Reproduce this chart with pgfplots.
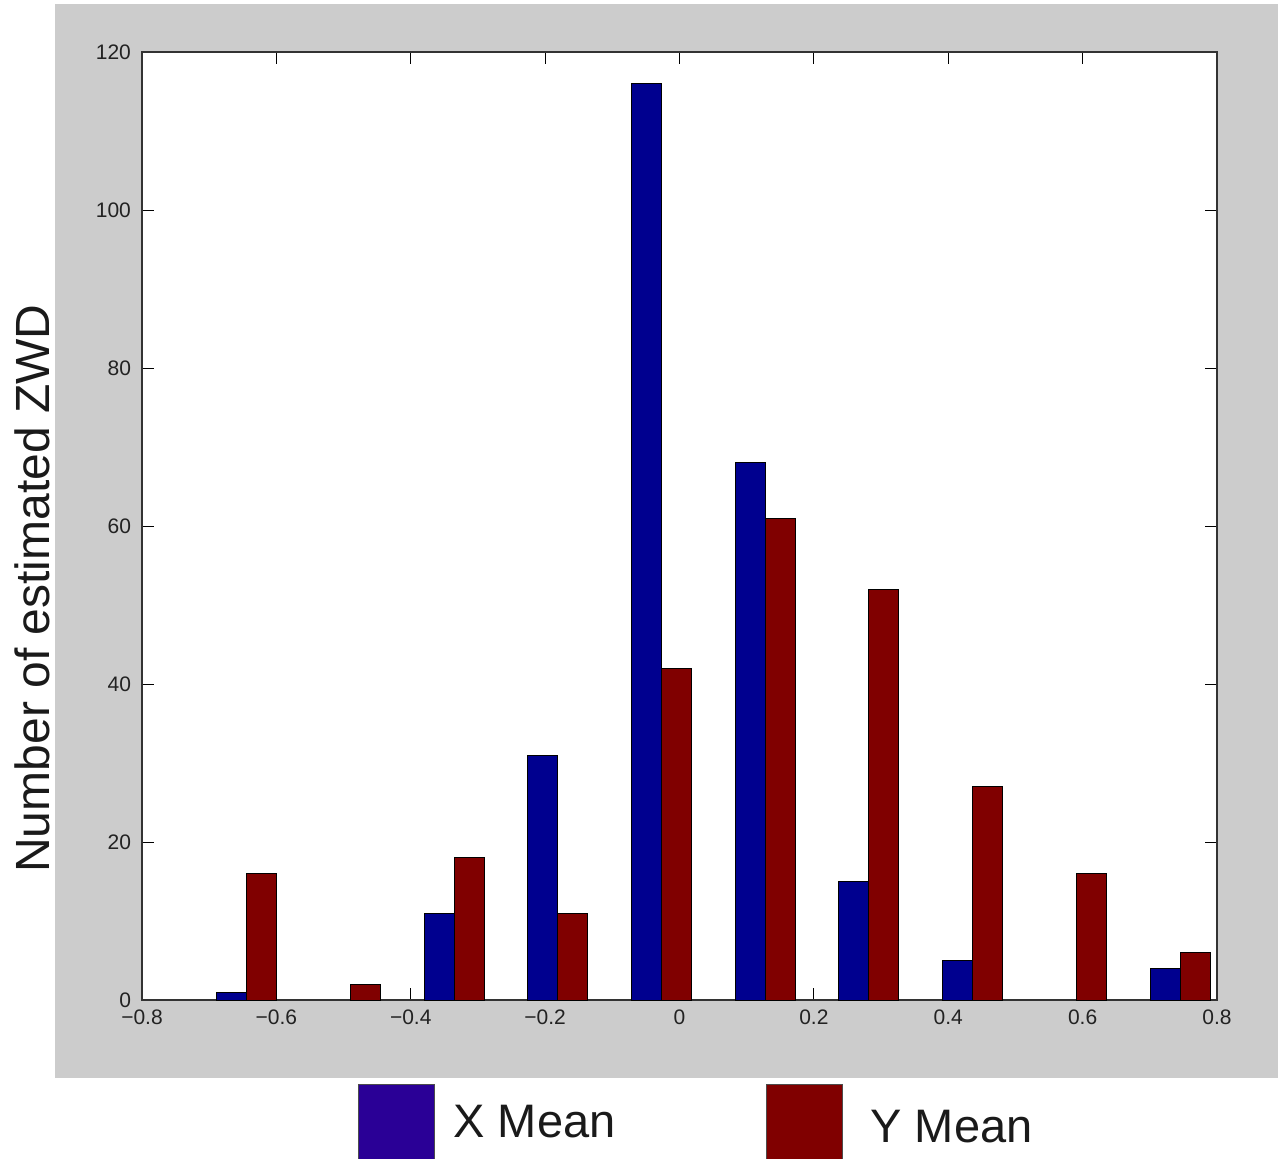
\documentclass[border=0pt]{standalone}
\usepackage{fontspec}
\setmainfont{Liberation Sans}
\usepackage{pgfplots}
\pgfplotsset{compat=1.18}
\definecolor{graybg}{RGB}{204,204,204}
\definecolor{barblue}{RGB}{0,0,143}
\definecolor{barred}{RGB}{128,0,0}
\definecolor{legblue}{RGB}{42,0,150}
\definecolor{tickgray}{RGB}{34,34,34}
\definecolor{txt}{RGB}{26,26,26}
\begin{document}
\begin{tikzpicture}
\fill[graybg] (27.5pt,-2pt) rectangle (639pt,-539pt);
\begin{axis}[
  at={(71pt,-500pt)}, anchor=south west,
  scale only axis, width=537.5pt, height=474pt,
  xmin=-0.8, xmax=0.8, ymin=0, ymax=120,
  xtick={-0.8,-0.6,-0.4,-0.2,0,0.2,0.4,0.6,0.8},
  xticklabels={−0.8,−0.6,−0.4,−0.2,0,0.2,0.4,0.6,0.8},
  ytick={0,20,40,60,80,100,120},
  tick align=inside, major tick length=6pt,
  tick style={black, line width=0.5pt},
  axis line style={black!80, line width=1pt},
  axis background/.style={fill=white},
  ticklabel style={font=\fontsize{10.5}{12}\selectfont, text=tickgray},
  /pgf/number format/assume math mode=true,
  xticklabel style={yshift=-1.5pt},
  yticklabel style={xshift=-2pt},
  ylabel={Number of estimated ZWD},
  ylabel style={at={(axis description cs:-0.0856,0.434)}, anchor=base, font=\fontsize{24}{28}\selectfont, text=txt},
  legend cell align=left,
  legend columns=2,
  legend style={at={(axis description cs:0.2005,-0.0886)}, anchor=north west,
    draw=none, fill=none, inner sep=0pt, outer sep=0pt,
    font=\fontsize{23.5}{28}\selectfont, text=txt,
    nodes={inner sep=0pt},
    /tikz/column 1/.style={column sep=9.5pt},
    /tikz/column 2/.style={column sep=75pt},
    /tikz/column 3/.style={column sep=14pt}},
]
\addplot[ybar, bar width=0.0447, bar shift=0pt, fill=barblue, draw=black, line width=0.5pt,
  legend image code/.code={\draw[fill=legblue,draw=black!70,line width=0.5pt] (0pt,-21pt) rectangle (38pt,19pt);}]
  coordinates {(-0.6665,1) (-0.3578,11) (-0.2034,31) (-0.0491,116) (0.1053,68) (0.2596,15) (0.4140,5) (0.7227,4)};
\addlegendentry{X Mean}
\addplot[ybar, bar width=0.0447, bar shift=0pt, fill=barred, draw=black, line width=0.5pt,
  legend image code/.code={\draw[fill=barred,draw=black!70,line width=0.5pt] (0pt,-21pt) rectangle (38pt,19pt);}]
  coordinates {(-0.6219,16) (-0.4675,2) (-0.3132,18) (-0.1588,11) (-0.0045,42) (0.1499,61) (0.3042,52) (0.4586,27) (0.6129,16) (0.7673,6)};
\addlegendentry{\raisebox{-5pt}{Y Mean}}
\end{axis}
\pgfresetboundingbox
\useasboundingbox (0pt,0pt) rectangle (639pt,-579pt);
\end{tikzpicture}
\end{document}
